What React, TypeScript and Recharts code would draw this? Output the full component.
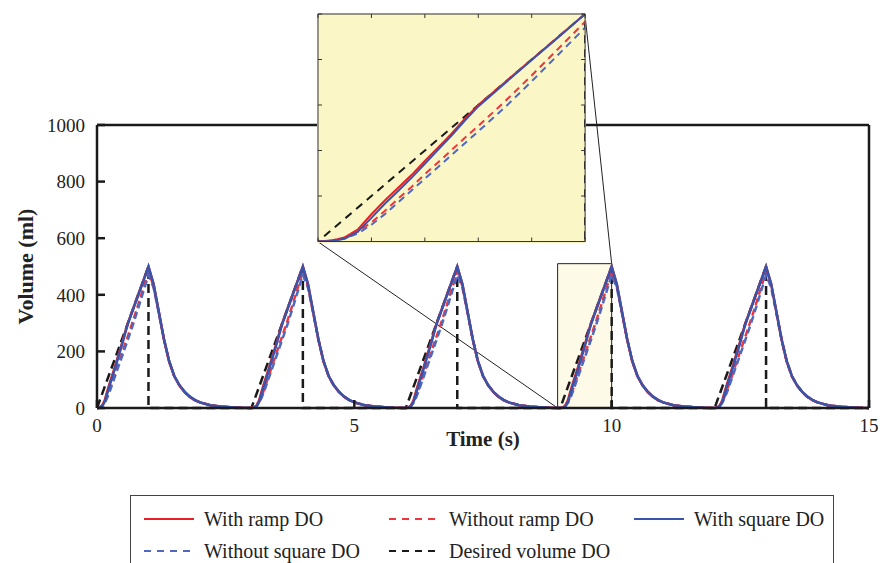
import { LineChart, Line, XAxis, YAxis, ReferenceArea, ReferenceLine } from 'recharts';

// one fill/empty cycle, repeated every 3 s
const cycleStarts = [0, 3, 6, 9, 12];
const cycleOffsets = [0, 0.05, 0.1, 0.15, 0.2, 0.25, 0.3, 0.35, 0.4, 0.45, 0.5, 0.55, 0.6, 0.7, 0.8, 0.9, 1, 1.1, 1.2, 1.3, 1.4, 1.5, 1.6, 1.7, 1.8, 1.9, 2, 2.2, 2.4, 2.6, 2.8, 3];

const withRamp = [0, 2, 9, 27, 60, 90, 118, 146, 177, 207, 237, 270, 300, 350, 400, 450, 500, 437, 340, 243, 165, 113, 80, 57, 40, 28, 20, 10, 5, 3, 1, 0];
const withoutRamp = [0, 2, 9, 22, 42, 67, 94, 120, 148, 174, 201, 228, 254, 308, 365, 424, 483, 430, 338, 244, 166, 113, 80, 57, 40, 28, 20, 10, 5, 3, 1, 0];
const withSquare = [0, 1, 6, 22, 52, 83, 111, 140, 171, 202, 233, 266, 297, 348, 399, 449, 500, 438, 341, 245, 167, 114, 81, 58, 41, 29, 20, 10, 5, 3, 1, 0];
const withoutSquare = [0, 1, 7, 18, 37, 60, 86, 112, 138, 164, 190, 216, 242, 295, 352, 411, 470, 425, 336, 243, 166, 113, 80, 57, 40, 28, 20, 10, 5, 3, 1, 0];

const desiredOffsets = [0, 1, 1, 3];
const desiredValues = [0, 500, 0, 0];

const xTicks = [0, 5, 10, 15];
const yTicks = [0, 200, 400, 600, 800, 1000];
const insetXTicks = [9, 9.2, 9.4, 9.6, 9.8, 10];
const insetYTicks = [0, 100, 200, 300, 400, 500];

// zoomed region (data units) and where the inset sits (main chart data units)
const zoomT = [8.95, 10];
const zoomV = [0, 510];
const insetT = [4.29, 9.48];
const insetV = [588, 1392];

const W = 884;
const H = 563;
const PLOT_LEFT = 97;
const PLOT_RIGHT = 869;
const PLOT_TOP = 125;
const PLOT_BOTTOM = 408;
const X_MAX = 15;
const Y_MAX = 1000;

const FONT = '"Liberation Serif", "Times New Roman", serif';
const AXIS = '#1a1a1a';

function buildSeries(offsets: number[], values: number[]) {
  const pts: { t: number; v: number }[] = [];
  cycleStarts.forEach((start) => {
    offsets.forEach((o, i) => pts.push({ t: Math.round((start + o) * 100) / 100, v: values[i] }));
  });
  return pts;
}

const series = [
  { name: 'Desired volume DO', data: buildSeries(desiredOffsets, desiredValues), color: '#1a1a1a', dash: '9 5', insetDash: '8 6' },
  { name: 'Without ramp DO', data: buildSeries(cycleOffsets, withoutRamp), color: '#f0353d', dash: '7 4', insetDash: '7 5' },
  { name: 'Without square DO', data: buildSeries(cycleOffsets, withoutSquare), color: '#4f68c0', dash: '7 4', insetDash: '7 5' },
  { name: 'With ramp DO', data: buildSeries(cycleOffsets, withRamp), color: '#e8202a', dash: undefined, insetDash: undefined },
  { name: 'With square DO', data: buildSeries(cycleOffsets, withSquare), color: '#3a54aa', dash: undefined, insetDash: undefined },
];

const legendRows = [
  ['With ramp DO', 'Without ramp DO', 'With square DO'],
  ['Without square DO', 'Desired volume DO'],
];

const sx = (t: number) => PLOT_LEFT + (t / X_MAX) * (PLOT_RIGHT - PLOT_LEFT);
const sy = (v: number) => PLOT_BOTTOM - (v / Y_MAX) * (PLOT_BOTTOM - PLOT_TOP);

// ticks without labels (tick={false} would drop the tick lines too)
const NoLabel = () => <g />;

function Inset() {
  const left = sx(insetT[0]);
  const right = sx(insetT[1]);
  const top = sy(insetV[1]);
  const bottom = sy(insetV[0]);
  const w = right - left + 2;
  const h = bottom - top + 2;
  const axisProps = { stroke: '#333', strokeWidth: 1, tickSize: -4, tick: NoLabel, interval: 0 as const };
  return (
    <div style={{ position: 'absolute', left: left - 1, top: top - 1, width: w, height: h, background: '#faf6c6' }}>
      <LineChart width={w} height={h} margin={{ top: 0, right: 0, bottom: 0, left: 0 }}>
        <XAxis xAxisId="b" type="number" dataKey="t" domain={[insetXTicks[0], insetXTicks[insetXTicks.length - 1]]} ticks={insetXTicks} allowDataOverflow height={1} {...axisProps} />
        <XAxis xAxisId="t" orientation="top" type="number" dataKey="t" domain={[insetXTicks[0], insetXTicks[insetXTicks.length - 1]]} ticks={insetXTicks} allowDataOverflow height={1} {...axisProps} />
        <YAxis yAxisId="l" type="number" domain={[insetYTicks[0], insetYTicks[insetYTicks.length - 1]]} ticks={insetYTicks} allowDataOverflow width={1} {...axisProps} />
        <YAxis yAxisId="r" orientation="right" type="number" domain={[insetYTicks[0], insetYTicks[insetYTicks.length - 1]]} ticks={insetYTicks} allowDataOverflow width={1} {...axisProps} />
        {series.map((s) => (
          <Line
            key={s.name}
            xAxisId="b"
            yAxisId="l"
            data={s.data}
            dataKey="v"
            type="linear"
            stroke={s.color}
            strokeWidth={2}
            strokeDasharray={s.insetDash}
            dot={false}
            activeDot={false}
            isAnimationActive={false}
          />
        ))}
      </LineChart>
    </div>
  );
}

function LegendSample({ color, dash }: { color: string; dash?: string }) {
  return (
    <svg width={52} height={6} style={{ display: 'block' }}>
      <line x1={1} y1={3} x2={51} y2={3} stroke={color} strokeWidth={2} strokeDasharray={dash ? '7 6' : undefined} />
    </svg>
  );
}

function Legend() {
  const colX = [12, 257, 502];
  const rowY = [23, 55];
  return (
    <div style={{ position: 'absolute', left: 130, top: 495, width: 704, height: 90, border: '1.5px solid #444', boxSizing: 'border-box', background: '#fff' }}>
      {legendRows.map((row, ri) =>
        row.map((name, ci) => {
          const s = series.find((x) => x.name === name)!;
          return (
            <div key={name} style={{ position: 'absolute', left: colX[ci], top: rowY[ri] - 13, height: 26, display: 'flex', alignItems: 'center' }}>
              <LegendSample color={s.color} dash={s.dash} />
              <span style={{ marginLeft: 9, fontFamily: FONT, fontSize: 20, color: '#222', whiteSpace: 'nowrap' }}>{name}</span>
            </div>
          );
        })
      )}
    </div>
  );
}

export default function App() {
  const tickStyle = { fontSize: 19, fill: '#222', fontFamily: FONT };
  return (
    <div style={{ position: 'absolute', left: 0, top: 0, width: W, height: H, background: '#fff', overflow: 'hidden', fontFamily: FONT }}>
      <LineChart width={W} height={H} margin={{ top: PLOT_TOP - 1, right: W - PLOT_RIGHT - 1, bottom: H - PLOT_BOTTOM - 60, left: 0 }}>
        <XAxis
          xAxisId="b"
          type="number"
          dataKey="t"
          domain={[0, X_MAX]}
          ticks={xTicks}
          interval={0}
          height={60}
          tickSize={-8}
          tickMargin={19}
          stroke={AXIS}
          strokeWidth={2.5}
          tick={tickStyle}
          label={{ value: 'Time (s)', position: 'insideBottom', offset: 22, fontSize: 21, fontWeight: 'bold', fill: '#222', fontFamily: FONT }}
        />
        <XAxis xAxisId="t" orientation="top" type="number" dataKey="t" domain={[0, X_MAX]} ticks={xTicks} interval={0} height={1} tickSize={-8} tick={NoLabel} stroke={AXIS} strokeWidth={2.5} />
        <YAxis
          yAxisId="l"
          type="number"
          domain={[0, Y_MAX]}
          ticks={yTicks}
          interval={0}
          width={PLOT_LEFT}
          tickSize={-8}
          tickMargin={20}
          stroke={AXIS}
          strokeWidth={2.5}
          tick={tickStyle}
          label={{ value: 'Volume (ml)', angle: -90, position: 'insideLeft', offset: 25, fontSize: 22, fontWeight: 'bold', fill: '#222', fontFamily: FONT, style: { textAnchor: 'middle' } }}
        />
        <YAxis yAxisId="r" orientation="right" type="number" domain={[0, Y_MAX]} ticks={yTicks} interval={0} width={1} tickSize={-8} tick={NoLabel} stroke={AXIS} strokeWidth={2.5} />
        <ReferenceArea xAxisId="b" yAxisId="l" x1={zoomT[0]} x2={zoomT[1]} y1={zoomV[0]} y2={zoomV[1]} fill="#f8f0b0" fillOpacity={0.3} stroke="#222" strokeWidth={1} />
        <ReferenceLine xAxisId="b" yAxisId="l" segment={[{ x: insetT[0], y: insetV[0] }, { x: zoomT[0], y: zoomV[0] }]} stroke="#222" strokeWidth={1} ifOverflow="visible" />
        <ReferenceLine xAxisId="b" yAxisId="l" segment={[{ x: insetT[1], y: insetV[1] }, { x: zoomT[1], y: zoomV[1] }]} stroke="#222" strokeWidth={1} ifOverflow="visible" />
        {series.map((s) => (
          <Line
            key={s.name}
            xAxisId="b"
            yAxisId="l"
            data={s.data}
            dataKey="v"
            type="linear"
            stroke={s.color}
            strokeWidth={2.5}
            strokeDasharray={s.dash}
            dot={false}
            activeDot={false}
            isAnimationActive={false}
          />
        ))}
      </LineChart>
      <Inset />
      <Legend />
    </div>
  );
}
